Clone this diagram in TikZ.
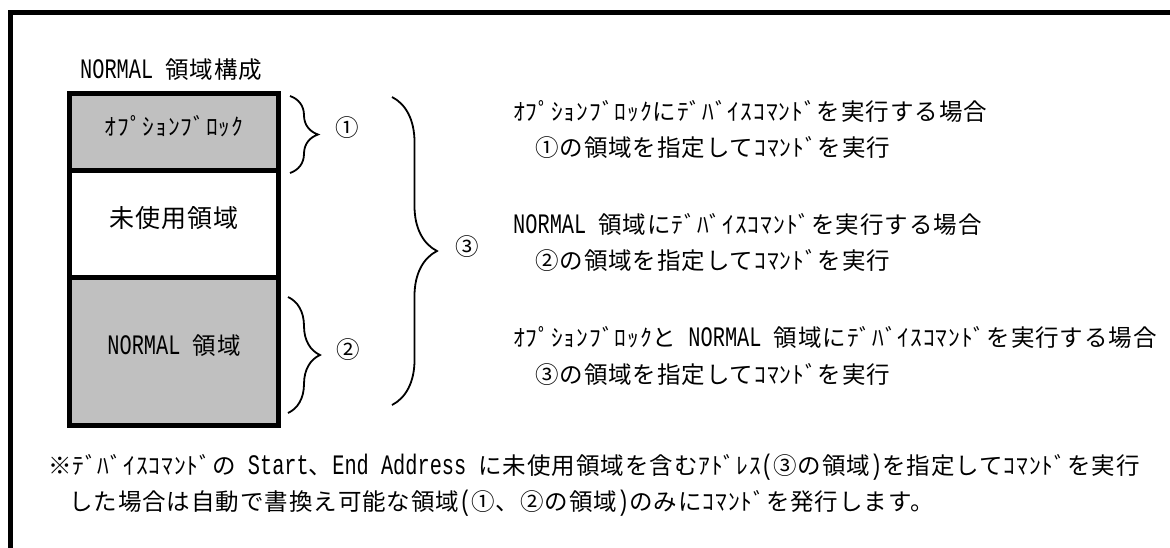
\documentclass[tikz,border=0pt]{standalone}
\usepackage{fontspec}
\setmainfont{Noto Sans CJK JP}[LetterSpace=4]
\newfontfamily\lat{Liberation Mono}[Scale=1.2,FakeStretch=0.72]
\newcommand\latn[1]{{\lat #1}}
\usetikzlibrary{decorations.pathreplacing}
\definecolor{boxgray}{RGB}{192,192,192}
\begin{document}
\begin{tikzpicture}[x=1pt,y=-1pt,
  jp/.style={font=\fontsize{23.5}{28}\selectfont, inner sep=0pt, text height=0.88em, text depth=0.12em},
  jpl/.style={jp, anchor=west},
  blk/.style={draw=black, line width=5pt, minimum width=209pt, inner sep=0pt},
  br/.style={decorate, decoration={brace, amplitude=#1}, line width=1.8pt},
  frameline/.style={line width=5pt, line join=miter}]
\useasboundingbox (0,0) rectangle (1170,547);
\clip (0,0) rectangle (1170,547);
% outer frame (continues beyond the picture)
\coordinate (fA) at (10,560);
\coordinate (fB) at (10,12.5);
\coordinate (fC) at (1180,12.5);
\draw[frameline] (fA) -- (fB) -- (fC);
% title
\node[jpl] (title) at (80,75) {\latn{NORMAL }領域構成};
% blocks
\node[blk, fill=boxgray, minimum height=77pt, jp] (ob) at (174,132) {ｵﾌﾟｼｮﾝﾌﾞﾛｯｸ};
\node[blk, fill=boxgray, minimum height=148pt, jp] (nm) at (174,351) {\latn{NORMAL }領域};
\node[blk, fill=white, minimum height=106.5pt, jp, font=\fontsize{25}{30}\selectfont] (un) at (174,223.75) {未使用領域};
% braces
\coordinate (b1t) at (290,96);
\coordinate (b1b) at (290,173);
\coordinate (b2t) at (288,297);
\coordinate (b2b) at (288,413);
\coordinate (b3t) at (392,97);
\coordinate (b3b) at (392,405);
\draw[br=28pt] (b1t) -- (b1b);
\draw[br=32pt] (b2t) -- (b2b);
\draw[br=45pt] (b3t) -- (b3b);
\node[jp] (c1) at (347,133) {①};
\node[jp] (c2) at (348,355) {②};
\node[jp] (c3) at (467,252) {③};
% right-hand explanations
\node[jpl] (t1) at (513,117) {ｵﾌﾟｼｮﾝﾌﾞﾛｯｸにﾃﾞﾊﾞｲｽｺﾏﾝﾄﾞを実行する場合};
\node[jpl] (t2) at (535,153) {①の領域を指定してｺﾏﾝﾄﾞを実行};
\node[jpl] (t3) at (513,230) {\latn{NORMAL }領域にﾃﾞﾊﾞｲｽｺﾏﾝﾄﾞを実行する場合};
\node[jpl] (t4) at (535,266) {②の領域を指定してｺﾏﾝﾄﾞを実行};
\node[jpl] (t5) at (513,343) {ｵﾌﾟｼｮﾝﾌﾞﾛｯｸと\latn{ NORMAL }領域にﾃﾞﾊﾞｲｽｺﾏﾝﾄﾞを実行する場合};
\node[jpl] (t6) at (535,380) {③の領域を指定してｺﾏﾝﾄﾞを実行};
% note
\node[jpl] (n1) at (48,471) {※ﾃﾞﾊﾞｲｽｺﾏﾝﾄﾞの\latn{ Start}、\latn{End Address }に未使用領域を含むｱﾄﾞﾚｽ\latn{(}③の領域\latn{)}を指定してｺﾏﾝﾄﾞを実行};
\node[jpl] (n2) at (69,507) {した場合は自動で書換え可能な領域\latn{(}①、②の領域\latn{)}のみにｺﾏﾝﾄﾞを発行します。};
\end{tikzpicture}
\end{document}
